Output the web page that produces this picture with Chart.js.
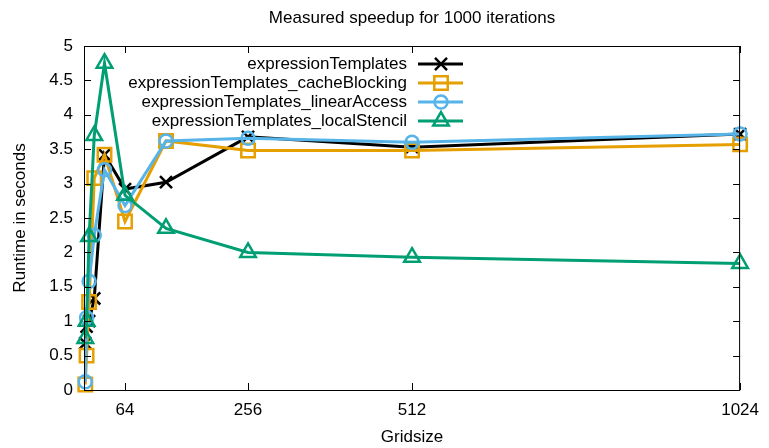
<!DOCTYPE html>
<html>
<head>
<meta charset="utf-8">
<script src="https://cdn.jsdelivr.net/npm/chart.js@4.4.1/dist/chart.umd.min.js"></script>
<style>
  html, body { margin: 0; padding: 0; background: #fff; }
  #wrap { width: 769px; height: 448px; }
</style>
</head>
<body>
<div id="wrap"><canvas id="speedup"></canvas></div>
<script>
// grid sizes and measured runtimes (seconds) per variant
var gridsize = [2, 4, 8, 16, 32, 64, 128, 256, 512, 1024];
var expressionTemplates = [0.68, 0.92, 1.0, 1.33, 3.42, 2.92, 3.02, 3.68, 3.53, 3.72];
var cacheBlocking = [0.08, 0.5, 1.28, 3.08, 3.42, 2.45, 3.62, 3.48, 3.48, 3.57];
var linearAccess = [0.12, 1.05, 1.58, 2.25, 3.2, 2.68, 3.62, 3.66, 3.6, 3.72];
var localStencil = [0.75, 1.0, 2.23, 3.7, 4.75, 2.83, 2.35, 2.0, 1.93, 1.84];
var xTicks = [64, 256, 512, 1024];

var FONT = '"Liberation Sans", Arial, sans-serif';

var makeSeries = function (label, values, color, style, radius, order) {
    return {
        label: label,
        data: gridsize.map((g, i) => ({ x: g, y: values[i] })),
        borderColor: color,
        backgroundColor: color,
        borderWidth: 3,
        tension: 0,
        clip: false,
        pointStyle: style,
        pointRadius: radius,
        pointHoverRadius: radius,
        pointBorderWidth: 2.5,
        pointBorderColor: color,
        pointBackgroundColor: 'rgba(0,0,0,0)',
        order: order
    };
};

// box, inward tics, titles and the key
var frame = {
    id: 'frame',
    afterDatasetsDraw: function (chart) {
        var ctx = chart.ctx, a = chart.chartArea;
        var xs = chart.scales.x, ys = chart.scales.y;
        ctx.save();
        ctx.strokeStyle = '#000';
        ctx.lineWidth = 1;
        ctx.strokeRect(a.left + 0.5, a.top + 0.5, a.right - a.left - 1, a.bottom - a.top);
        ctx.beginPath();
        for (var v = 0; v <= 5; v += 0.5) {
            var py = Math.round(ys.getPixelForValue(v)) + 0.5;
            ctx.moveTo(a.left, py); ctx.lineTo(a.left + 7, py);
            ctx.moveTo(a.right, py); ctx.lineTo(a.right - 7, py);
        }
        xTicks.forEach(function (t) {
            var px = Math.round(xs.getPixelForValue(t)) + 0.5;
            ctx.moveTo(px, a.bottom); ctx.lineTo(px, a.bottom - 7);
            ctx.moveTo(px, a.top); ctx.lineTo(px, a.top + 7);
        });
        ctx.stroke();

        ctx.fillStyle = '#000';
        ctx.font = '17px ' + FONT;
        ctx.textAlign = 'center';
        ctx.textBaseline = 'middle';
        var cx = (a.left + a.right) / 2;
        ctx.fillText('Measured speedup for 1000 iterations', cx, 18);
        ctx.fillText('Gridsize', cx, 437);
        ctx.save();
        ctx.translate(20, (a.top + a.bottom) / 2);
        ctx.rotate(-Math.PI / 2);
        ctx.fillText('Runtime in seconds', 0, 0);
        ctx.restore();

        // key, top centre of the plot
        ctx.textAlign = 'right';
        chart.data.datasets.forEach(function (ds, i) {
            var ky = 64 + i * 19;
            ctx.fillStyle = '#000';
            ctx.fillText(ds.label, 407, ky);
            ctx.strokeStyle = ds.borderColor;
            ctx.lineWidth = 3;
            ctx.beginPath();
            ctx.moveTo(418, ky); ctx.lineTo(463, ky);
            ctx.stroke();
            ctx.lineWidth = ds.pointBorderWidth;
            ctx.fillStyle = 'rgba(0,0,0,0)';
            Chart.helpers.drawPoint(ctx, {
                pointStyle: ds.pointStyle, radius: ds.pointRadius,
                borderWidth: ds.pointBorderWidth, rotation: 0
            }, 441, ky);
        });
        ctx.restore();
    }
};

var chart = new Chart(document.getElementById('speedup'), {
    type: 'line',
    data: {
        datasets: [
            makeSeries('expressionTemplates', expressionTemplates, '#000000', 'crossRot', 8.5, 4),
            makeSeries('expressionTemplates_cacheBlocking', cacheBlocking, '#E69F00', 'rect', 9.5, 3),
            makeSeries('expressionTemplates_linearAccess', linearAccess, '#56B4E9', 'circle', 6.5, 2),
            makeSeries('expressionTemplates_localStencil', localStencil, '#009E73', 'triangle', 9, 1)
        ]
    },
    options: {
        responsive: true,
        maintainAspectRatio: false,
        animation: false,
        layout: { padding: { top: 46, right: 26, left: 0, bottom: 0 } },
        plugins: { legend: { display: false }, title: { display: false }, tooltip: { enabled: false } },
        scales: {
            x: {
                type: 'linear', min: 0, max: 1024,
                afterBuildTicks: function (s) { s.ticks = xTicks.map(v => ({ value: v })); },
                afterFit: function (s) { s.height = 58; },
                grid: { display: false, drawTicks: false },
                border: { display: false },
                ticks: {
                    color: '#000', font: { family: FONT, size: 17 }, padding: 10,
                    maxRotation: 0, autoSkip: false, callback: v => String(v)
                }
            },
            y: {
                min: 0, max: 5,
                afterFit: function (s) { s.width = 84; },
                grid: { display: false, drawTicks: false },
                border: { display: false },
                ticks: {
                    stepSize: 0.5, color: '#000', font: { family: FONT, size: 17 }, padding: 11,
                    callback: v => String(v)
                }
            }
        }
    },
    plugins: [frame]
});
</script>
</body>
</html>
